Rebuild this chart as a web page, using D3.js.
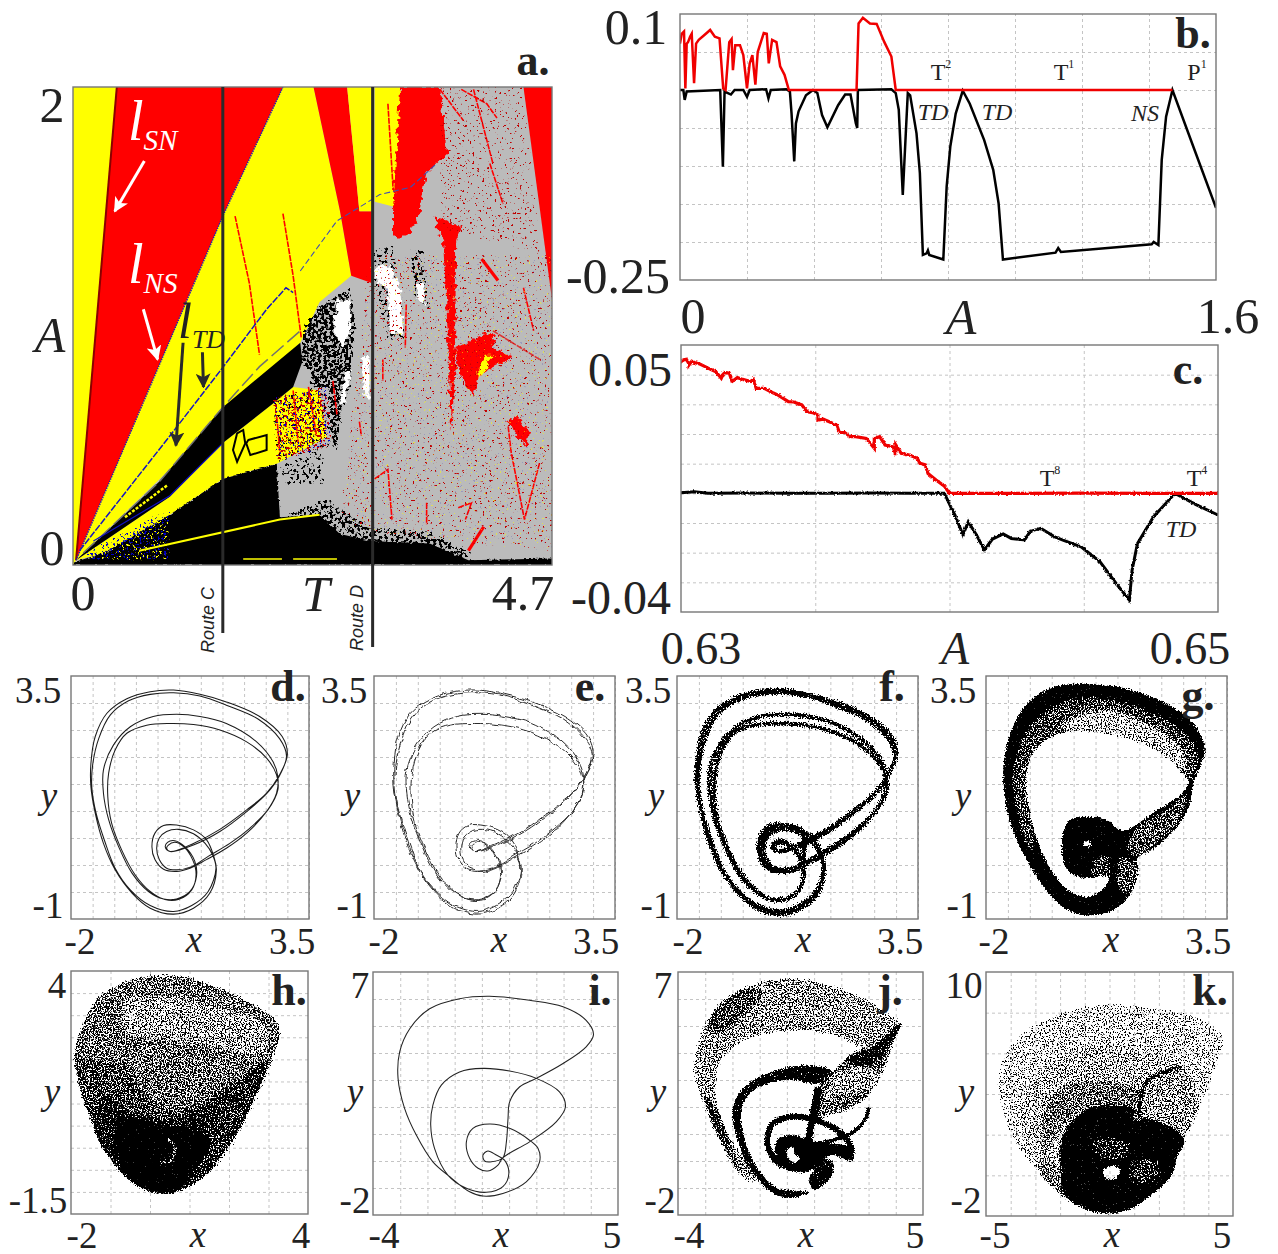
<!DOCTYPE html>
<html>
<head>
<meta charset="utf-8">
<script src="https://cdn.jsdelivr.net/npm/d3@7"></script>
<style>
  html, body { margin: 0; padding: 0; background: #fff; }
  text { font-family: "Liberation Serif", serif; fill: #222; }
</style>
</head>
<body>
<div id="chart"></div>
<script>
// -------------------------
// Data
// -------------------------

// Panel b, Lyapunov exponents against A
const bBlack = [[0,0],[.01,0],[.014,-.013],[.02,-.002],[.12,0],[.128,-.101],[.133,-.002],[.152,-.006],[.163,0],[.189,0],[.2,-.009],[.208,0],[.257,.001],[.264,-.011],[.271,0],[.317,.001],[.328,-.002],[.333,-.031],[.341,-.094],[.346,-.044],[.354,-.028],[.376,-.007],[.397,0],[.41,-.004],[.424,-.033],[.44,-.049],[.472,-.02],[.493,-.006],[.509,-.006],[.525,-.044],[.529,-.05],[.531,0],[.631,.001],[.644,-.004],[.653,-.026],[.665,-.138],[.674,-.057],[.68,-.004],[.687,-.007],[.706,-.057],[.716,-.109],[.725,-.217],[.736,-.215],[.74,-.211],[.744,-.217],[.786,-.223],[.796,-.127],[.807,-.074],[.823,-.031],[.844,-.001],[.865,-.018],[.908,-.066],[.935,-.105],[.951,-.149],[.964,-.223],[1.121,-.214],[1.129,-.208],[1.137,-.213],[1.408,-.203],[1.414,-.2],[1.428,-.204],[1.438,-.092],[1.451,-.035],[1.47,0],[1.536,-.079],[1.6,-.155]];
const bRed = [[0,.061],[.005,.074],[.012,.077],[.016,.002],[.02,.061],[.024,.063],[.03,.07],[.035,.074],[.042,.009],[.048,.061],[.056,.066],[.072,.072],[.09,.079],[.104,.07],[.118,.068],[.129,.002],[.136,0],[.147,.063],[.154,.067],[.158,.026],[.165,.059],[.179,.059],[.189,.046],[.2,.002],[.208,.035],[.216,.046],[.225,.007],[.232,.05],[.25,.075],[.259,.074],[.265,.035],[.275,.066],[.288,.063],[.299,.031],[.312,.02],[.325,0],[.527,0],[.533,.0875],[.546,.095],[.567,.0875],[.587,.087],[.61,.063],[.631,.044],[.644,0],[1.47,0]];

// Panel c, same exponents on the narrow A range
const cBlack = [[.63,.0002],[.6305,.0005],[.631,0],[.6325,.0001],[.634,0],[.6355,0],[.637,.0001],[.6385,0],[.6398,0],[.6399,-.0017],[.6401,-.0056],[.6402,-.0073],[.6405,-.014],[.6407,-.0096],[.641,-.014],[.6413,-.0191],[.6416,-.0154],[.642,-.0137],[.6423,-.0152],[.6428,-.0157],[.643,-.0129],[.6434,-.0118],[.6439,-.0146],[.6442,-.0157],[.6449,-.018],[.6456,-.023],[.6462,-.0303],[.6467,-.036],[.6468,-.0259],[.647,-.0169],[.6476,-.0079],[.6484,0],[.6492,-.0039],[.65,-.0073]];
const cRed = [[.63,.0444],[.6301,.045],[.6302,.0452],[.6303,.0436],[.6303,.0433],[.6304,.0445],[.6305,.0441],[.6307,.0436],[.6309,.0427],[.6311,.0418],[.6313,.041],[.6315,.0388],[.6316,.0407],[.6318,.0405],[.6319,.0377],[.6321,.039],[.6323,.0384],[.6326,.0377],[.6327,.0384],[.6328,.0354],[.6331,.0354],[.6334,.034],[.6336,.0332],[.634,.0309],[.6342,.0308],[.6345,.0298],[.6347,.0275],[.6349,.0272],[.6351,.0264],[.6351,.0247],[.6353,.025],[.6355,.0242],[.6358,.023],[.6359,.0205],[.6361,.0205],[.6363,.0191],[.6365,.0191],[.6369,.0185],[.637,.0174],[.6372,.0152],[.6372,.0185],[.6374,.0191],[.6376,.0163],[.6379,.0157],[.638,.0129],[.638,.0163],[.6382,.0135],[.6385,.0129],[.6388,.0118],[.6389,.0101],[.6391,.0096],[.6392,.0067],[.6395,.0045],[.6398,.0025],[.64,0],[.6425,0],[.645,.0001],[.6475,0],[.65,0]];

// Panels d, e and f share one period 8 orbit
const orbitD = [[.29,.25],[.83,.4],[1.44,.66],[2.06,1.02],[2.52,1.33],[2.82,1.67],[3.0,2.04],[2.88,2.38],[2.36,2.75],[1.59,3.02],[.98,3.16],[.37,3.24],[-.17,3.21],[-.71,3.08],[-1.17,2.81],[-1.44,2.38],[-1.54,1.88],[-1.54,1.45],[-1.44,.96],[-1.25,.4],[-.98,-.09],[-.59,-.52],[-.17,-.8],[.37,-.91],[.83,-.8],[1.21,-.52],[1.36,-.09],[1.3,.16],[1.13,.47],[.83,.65],[.44,.74],[.14,.73],[-.06,.59],[-.13,.34],[-.06,.1],[.14,-.08],[.44,-.12],[.75,-.06],[1.13,.1],[1.59,.31],[2.06,.59],[2.52,.99],[2.75,1.33],[2.78,1.64],[2.67,1.91],[2.29,2.28],[1.59,2.62],[.98,2.75],[.44,2.79],[-.1,2.75],[-.63,2.56],[-1.02,2.22],[-1.25,1.76],[-1.25,1.33],[-1.13,.84],[-.9,.34],[-.59,-.15],[-.21,-.49],[.14,-.63],[.44,-.63],[.75,-.49],[.9,-.21],[.86,.07],[.63,.34],[.4,.45],[.23,.42],[.18,.33],[.29,.25],[.83,.37],[1.44,.62],[2.06,.99],[2.52,1.32],[2.81,1.64],[2.98,2.02],[2.82,2.34],[2.33,2.7],[1.59,2.96],[.98,3.13],[.37,3.19],[-.17,3.16],[-.67,3.04],[-1.09,2.78],[-1.36,2.34],[-1.5,1.85],[-1.52,1.45],[-1.42,.96],[-1.22,.44],[-.98,-.06],[-.63,-.46],[-.17,-.75],[.37,-.86],[.79,-.75],[1.17,-.49],[1.35,-.06],[1.27,.19],[1.1,.4],[.83,.58],[.48,.66],[.21,.62],[.04,.5],[-.02,.31],[.04,.1],[.21,-.06],[.44,-.09],[.79,-.03],[1.17,.16],[1.67,.4],[2.13,.68],[2.55,1.02],[2.78,1.39],[2.75,1.67],[2.52,1.98],[2.06,2.28],[1.44,2.5],[.83,2.6],[.29,2.62],[-.25,2.59],[-.71,2.44],[-.98,2.13],[-1.13,1.7],[-1.15,1.27],[-1.06,.77],[-.83,.28],[-.52,-.18],[-.17,-.49],[.17,-.64],[.48,-.64],[.79,-.46],[.89,-.18],[.81,.1],[.6,.34],[.4,.42],[.25,.37],[.21,.31]];
const ringF = [[.85,.6],[.44,.72],[.1,.65],[-.1,.4],[-.08,.1],[.1,-.06],[.44,-.1],[.8,-.03]];

// Panel g outline and density patches
const gOuter = [[2.73,1.51],[2.89,1.82],[3.0,2.1],[2.89,2.44],[2.58,2.75],[1.97,3.05],[1.21,3.27],[.76,3.33],[.15,3.36],[-.46,3.3],[-.99,3.05],[-1.33,2.68],[-1.52,2.25],[-1.61,1.76],[-1.56,1.14],[-1.37,.59],[-.99,-.03],[-.61,-.49],[-.15,-.83],[.3,-.94],[.83,-.86],[1.21,-.64],[1.44,-.27],[1.48,0],[1.44,.1],[1.9,.34],[2.43,.77],[2.66,1.14]];
const gHole = [[2.62,1.57],[2.2,1.94],[1.52,2.25],[.76,2.41],[.15,2.47],[-.38,2.41],[-.76,2.22],[-.99,1.94],[-1.07,1.51],[-.99,.96],[-.8,.4],[-.46,-.15],[-.08,-.49],[.38,-.58],[.64,-.46],[.8,-.24],[.38,-.24],[.15,-.24],[-.15,-.09],[-.27,.28],[-.23,.65],[-.08,.84],[.3,.9],[.76,.84],[1.06,.65],[1.21,.65],[1.9,1.02],[2.43,1.3]];
const gRibbon = [[2.73,1.64],[2.85,1.98],[2.73,2.28],[2.13,2.68],[1.44,2.93],[.76,3.08],[0,3.08],[-.61,2.87],[-.99,2.59],[-1.29,2.13],[-1.41,1.64],[-1.29,.96],[-1.07,.34],[-.91,.28],[-.99,.96],[-1.07,1.51],[-.99,1.94],[-.76,2.22],[-.38,2.41],[.15,2.47],[.76,2.41],[1.52,2.25],[2.2,1.94],[2.62,1.57]];
const gCore = [[2.58,1.76],[2.43,2.19],[1.52,2.68],[.76,2.87],[.15,2.78],[-.31,2.56],[.15,2.47],[.76,2.41],[1.52,2.25],[2.2,1.94]];
const gWing = [[1.21,.34],[1.44,.71],[2.13,1.02],[2.58,1.33],[2.43,.84],[1.9,.41],[1.44,.16]];
const gLower = [[1.06,.16],[1.44,.03],[1.4,-.27],[1.14,-.52],[.99,-.34]];
const gSpiral = [[.38,-.15],[.49,.1],[.76,.16],[.8,-.21]];
const gEye = [[.21,.37],[.3,.44],[.42,.37],[.3,.34]];

// Panel h
const hOuter = [[.26,3.92],[.93,3.87],[1.6,3.68],[2.28,3.42],[2.87,3.12],[3.2,2.89],[3.3,2.66],[3.25,2.33],[2.95,1.72],[2.7,1.12],[2.36,.44],[1.94,-.16],[1.44,-.61],[1.01,-.88],[.59,-1.03],[.26,-1.05],[-.16,-.95],[-.59,-.69],[-1.01,-.27],[-1.43,.44],[-1.72,1.12],[-1.89,1.72],[-1.93,2.14],[-1.76,2.7],[-1.43,3.3],[-1.01,3.61],[-.42,3.83]];
const hTop = [[-1.89,2.14],[-1.76,2.7],[-1.43,3.3],[-1.01,3.61],[-.42,3.83],[.26,3.92],[.93,3.87],[1.6,3.68],[2.28,3.42],[2.87,3.12],[3.2,2.89],[3.28,2.6],[2.99,1.99],[1.94,1.42],[.59,.82],[-.2,1.3],[-.59,1.87],[-1.34,1.95]];
const hCore = [[-.59,3.38],[1.5,3.2],[2.87,2.78],[2.9,2.17],[1.1,2.4],[-.59,2.63]];
const hDark = [[-1.17,1.12],[-.59,.82],[.59,.67],[1.94,1.27],[2.87,1.95],[2.95,1.72],[2.7,1.12],[2.36,.44],[1.94,-.16],[1.44,-.61],[1.01,-.88],[.59,-1.03],[.26,-1.05],[-.16,-.95],[-.59,-.69],[-1.01,-.27],[-1.43,.44]];
const hBlack = [[-.84,.59],[.26,.52],[1.52,.22],[1.1,-.54],[.59,-.99],[-.16,-.91],[-.67,-.54]];
const hRight = [[1.69,.89],[2.7,1.8],[2.53,1.12],[2.19,.37],[1.77,-.23],[1.27,-.39],[1.35,.37]];
const hSliver = [[1.69,-.39],[2.19,.22],[2.7,1.12],[3.12,1.99]];
const hRing = [[.42,.22],[.64,-.01],[.51,-.31],[.26,-.31]];

// Panel i, one closed orbit
const orbitI = [[.77,.12],[.9,.71],[.96,1.58],[1.02,2.19],[1.39,2.75],[2.0,3.06],[2.98,3.61],[3.83,4.23],[4.1,4.68],[3.83,5.21],[2.98,5.71],[1.75,5.95],[.28,6.1],[-.82,6.01],[-1.92,5.64],[-2.65,4.9],[-3.02,4.04],[-3.08,3.06],[-2.84,1.95],[-2.41,.96],[-1.8,-.03],[-1.18,-.58],[-.45,-1.14],[.04,-1.3],[.77,-1.2],[1.63,-.77],[2.12,-.03],[2.06,.47],[1.75,.77],[1.02,1.21],[.28,1.37],[-.33,1.21],[-.57,.71],[-.45,.1],[-.14,-.27],[.22,-.37],[.59,-.15],[.77,.12],[1.75,.71],[2.73,1.45],[3.07,2.01],[2.85,2.56],[2.0,3.06],[1.02,3.33],[.04,3.43],[-.82,3.3],[-1.49,2.81],[-1.8,2.07],[-1.88,1.33],[-1.74,.47],[-1.25,-.52],[-.57,-1.01],[.16,-1.16],[.77,-.95],[.99,-.46],[.83,.03],[.53,.22],[.22,.37],[.04,.22],[.1,0],[.35,-.03]];

// Panel j
const jRibbon = [[4.2,5.09],[3.72,5.46],[2.74,6.08],[1.64,6.51],[.66,6.75],[-.43,6.75],[-1.53,6.45],[-2.51,5.83],[-3.06,4.97],[-3.37,3.98],[-3.43,3.24],[-3.18,2.38],[-2.75,1.39],[-2.27,.28],[-1.66,-.58],[-1.11,-.83],[-1.47,-.09],[-2.14,1.02],[-2.45,1.76],[-2.57,2.62],[-2.45,3.61],[-1.9,4.23],[-1.17,4.6],[-.07,4.78],[1.03,4.78],[2.01,4.53],[2.62,4.23],[3.11,4.23],[3.72,4.53]];
const jDarkTop = [[-2.9,4.9],[-2.5,5.7],[-1.5,6.4],[-.9,6.2],[-1.5,5.5],[-2.5,4.7]];
const jDarkLeft = [[-3.0,2.4],[-2.7,1.2],[-2.1,.2],[-1.7,-.4],[-2.2,.9],[-2.5,1.8]];
const jWing = [[4.2,5.09],[3.72,4.53],[3.11,4.23],[2.62,4.17],[1.76,3.43],[1.15,2.75],[.97,1.51],[1.4,1.64],[2.25,1.88],[2.98,2.38],[3.47,3.12],[3.84,4.1]];
const jWingDark = [[4.2,5.09],[3.6,4.6],[3.1,4.2],[2.2,3.8],[2.8,3.5],[3.5,3.9]];
const jWingLight = [[2.6,3.5],[3.3,3.3],[3.2,2.7],[2.6,2.6],[1.9,2.5],[1.5,2.2],[1.6,3.0]];
const jMid = [[1.64,3.36],[.79,3.55],[-.19,3.43],[-1.05,3.12],[-1.78,2.5],[-2.02,1.88],[-1.9,1.02],[-1.53,.03],[-1.05,-.71],[-.43,-1.26],[.18,-1.38],[.91,-1.14],[.18,-1.08],[-.43,-.95],[-1.17,-.09],[-1.59,1.02],[-1.66,1.88],[-1.35,2.5],[-.68,2.87],[.18,2.99],[1.15,2.87]];
const jBlob = [[-.43,.4],[-.31,.84],[.3,.96],[.79,.77],[1.4,.65],[2.25,.53],[2.31,.03],[1.64,.22],[1.15,-.09],[.79,-.4],[.3,-.4],[-.19,-.21]];
const jStar = [[-.01,.34],[.18,.53],[.3,.22],[.48,.1],[.3,-.09],[.11,.03]];
const jLowerBlob = [[.91,-.46],[1.28,.03],[1.64,.03],[1.7,-.46],[1.28,-.95],[.97,-1.08],[.79,-.58]];
const jRing = [[2.31,.03],[2.37,.4],[2.01,1.02],[1.03,1.51],[.18,1.64],[-.5,1.39],[-.72,.77],[-.55,.2],[-.19,-.21]];
const jArc = [[1.15,.65],[2.25,.96],[2.86,1.51],[3.01,2.0]];
const jStem = [[1.15,2.75],[.97,1.76],[.79,.77]];

// Panel k
const kOuter = [[4.6,6.83],[4.26,7.32],[3.32,7.9],[1.97,8.23],[.35,8.42],[-.99,8.31],[-2.34,7.81],[-3.56,6.99],[-4.23,5.92],[-4.53,4.61],[-4.37,3.29],[-3.83,1.65],[-2.88,.17],[-1.81,-1.15],[-.86,-1.72],[.01,-1.88],[.89,-1.64],[1.7,-.98],[2.51,.01],[2.78,.99],[3.05,1.81],[3.72,3.46],[4.4,5.6]];
const kShell = [[-3.42,2.14],[-3.56,3.46],[-2.75,5.1],[-1.54,6.01],[-.19,6.34],[1.43,6.09],[2.91,5.35],[1.43,4.44],[1.3,3.95],[1.03,2.64],[-1,3.13],[-1.94,2.64],[-2.75,1.49]];
const kInner = [[-2.68,.99],[-2.61,3.29],[-1.94,4.28],[-.59,4.69],[.76,4.44],[1.3,4.03],[1.03,2.64],[-1,3.29],[-1.81,2.47]];
const kRight = [[1.3,4.12],[1.56,4.69],[2.91,5.35],[3.59,3.62],[3.05,1.98],[1.3,2.8]];
const kDark = [[-1.81,2.14],[-1.54,2.64],[-.73,3.29],[.89,3.29],[1.03,2.64],[1.43,2.8],[2.78,2.14],[3.05,1.65],[2.78,.99],[2.51,.01],[1.7,-.98],[.89,-1.64],[.01,-1.88],[-.86,-1.72],[-1.81,-.98],[-1.94,.17],[-2.01,1.16]];
const kSpotA = [[-.73,1.65],[.76,1.65],[.62,.83],[-.46,.99]];
const kSpotB = [[.89,.66],[1.97,.66],[1.97,-.16],[.89,-.32]];
const kHole = [[-.25,.17],[.01,.45],[.42,.3],[.22,-.16],[-.08,-.16]];
const kLower = [[-2.88,.17],[-1.81,-.98],[-1.94,.17],[-2.68,.99]];
const kStem = [[2.91,5.35],[1.56,4.69],[1.3,4.03],[1.17,2.8]];

// Panel a, regions of the (T, A) plane
const aYellowLeft = [[0,0],[0,2],[.43,2],[.03,.02]];
const aRedLeft = [[.03,.02],[.43,2],[2.06,2],[1.47,1.46]];
const aYellowMain = [[.03,.02],[1.47,1.46],[2.06,2],[2.36,2],[2.62,1.48],[2.73,1.21],[2.42,1.1],[2.23,.93]];
const aRedSecond = [[2.36,2],[2.69,2],[2.81,1.48],[2.93,1.48],[2.93,1.18],[2.73,1.21],[2.62,1.48]];
const aYellowSecond = [[2.69,2],[2.94,2],[2.94,1.48],[2.81,1.48]];
const aYellowThird = [[2.96,2],[3.21,2],[3.35,1.54],[3.14,1.5],[2.96,1.52]];
const aRedTop = [[3.21,2],[3.6,2],[3.67,1.72],[3.47,1.64],[3.42,1.55],[3.4,1.47],[3.31,1.39],[3.27,1.37],[3.14,1.37],[3.14,1.48]];
const aRedRight = [[4.42,2],[4.7,2],[4.7,1.11]];
const aBlackWedge = [[.03,.02],[.85,.35],[1.47,.66],[2.23,.93],[2.25,.85],[2.16,.745],[1.96,.675],[1.47,.51],[.95,.286]];
const aYellowBand = [[.03,.02],[.95,.286],[1.47,.51],[1.96,.675],[2.16,.745],[2.42,.73],[2.49,.536],[2.0,.424],[1.47,.36],[.95,.21],[.3,.05]];
const aBlackBottom = [[0,0],[0,.01],[.3,.05],[.95,.21],[1.47,.36],[2.0,.424],[2.03,.2],[2.42,.21],[2.62,.13],[2.93,.1],[3.5,.09],[3.88,.02],[4.7,.027],[4.7,0]];
const aBlackMottle = [[2.26,1.0],[2.42,1.09],[2.72,1.16],[2.78,1.01],[2.75,.91],[2.72,.73],[2.65,.66],[2.59,.48],[2.49,.52],[2.39,.49],[2.32,.81],[2.23,.84]];
const aMottleD = [[2.95,1.32],[3.14,1.34],[3.27,.95],[3.08,.94],[2.95,1.18]];
const aMottleE = [[3.31,1.32],[3.44,1.32],[3.5,1.05],[3.34,1.12]];
const aMottleF = [[2.03,.42],[2.45,.49],[2.49,.34],[2.23,.34],[2.09,.33]];
const aMottleG = [[2.03,.2],[2.5,.28],[2.9,.16],[3.5,.14],[3.9,.06],[3.88,.02],[2.9,.08],[2.4,.18]];
const aWhitePatches = [
  [[2.59,1.11],[2.72,1.11],[2.72,.97],[2.65,.91],[2.55,.98]],
  [[2.68,.81],[2.73,.81],[2.67,.68],[2.62,.68]],
  [[2.83,.87],[2.91,.87],[2.91,.69],[2.86,.7]],
  [[2.96,1.25],[3.11,1.25],[3.21,1.16],[3.24,.97],[3.11,.97],[3.09,1.15],[2.98,1.19]],
  [[3.37,1.18],[3.44,1.18],[3.45,1.09],[3.37,1.11]]
];
const aRedPatches = [
  [[3.63,1.37],[3.76,1.36],[3.75,.95],[3.76,.86],[3.71,.55],[3.68,.95]],
  [[3.57,1.45],[3.68,1.44],[3.81,1.41],[3.76,1.36],[3.63,1.36],[3.57,1.4]],
  [[3.76,.91],[4.06,.97],[4.14,.97],[4.12,.91],[4.32,.87],[3.99,.8],[3.93,.71],[3.8,.79]],
  [[4.25,.605],[4.37,.62],[4.48,.55],[4.45,.49],[4.37,.54]]
];
const aYellowSpot = [[3.98,.81],[4.04,.88],[4.11,.88],[4.04,.81],[3.98,.78]];
const aRedLines = [
  [[4.27,.58],[4.3,.47],[4.43,.19],[4.58,.43]],
  [[1.59,1.46],[1.73,1.18],[1.83,.88]],
  [[2.06,1.47],[2.16,1.21],[2.24,.95]],
  [[4.01,1.28],[4.17,1.19]],
  [[3.81,1.99],[4.06,1.93],[4.16,1.87]],
  [[3.6,1.99],[3.83,1.86]],
  [[4.09,1.68],[4.22,1.51]],
  [[3.93,1.99],[4.12,1.68]],
  [[2.96,.36],[3.09,.4],[3.13,.19]],
  [[3.27,1.09],[3.26,.91]],
  [[3.04,.86],[3.04,.77]],
  [[3.78,.24],[3.91,.26],[3.85,.19]],
  [[2.55,.77],[2.59,.63]],
  [[2.31,.745],[2.39,.54]],
  [[4.58,.86],[4.12,.98]],
  [[3.88,.06],[4.03,.16]],
  [[3.47,.26],[3.47,.17]],
  [[4.42,1.16],[4.52,.98]],
  [[3.09,1.93],[3.14,1.58],[3.27,1.39]],
  [[2.0,.62],[2.03,.47]],
  [[2.16,.73],[2.21,.51]],
  [[2.81,.6],[2.83,.54]]
];
const aBoundaryNS = [[.03,.02],[1.47,1.46],[2.06,2]];
const aBoundarySN = [[.03,.02],[.43,2]];
const aBlueTD = [[.065,.06],[.95,.54],[1.44,.81],[1.9,1.07],[2.09,1.16],[2.16,1.14]];
const aBlueTDFar = [[2.23,1.23],[2.59,1.44],[2.86,1.51],[3.01,1.55],[3.31,1.58],[3.57,1.68]];
const aGreyLine = [[.1,.05],[.85,.35],[1.47,.66],[1.83,.83],[2.23,.98]];
const aBlueLow = [[.2,.1],[.95,.29],[1.47,.51]];
const aThinStrip = [[.51,.2],[.93,.335]];
const aYellowThin = [[.65,.06],[2.03,.19],[2.42,.21]];
const aBottomDashes = [[[1.67,.025],[2.05,.025]],[[2.16,.025],[2.59,.025]]];
const aLoops = [
  [[1.72,.523],[1.9,.544],[1.9,.481],[1.74,.46],[1.7,.509]],
  [[1.61,.551],[1.67,.565],[1.69,.509],[1.61,.432],[1.57,.481]]
];
const aScatterZone = [[2.9,1.3],[4.7,1.3],[4.7,.05],[2.6,.15]];
const aScatterTop = [[3.6,2],[4.42,2],[4.6,1.3],[3.6,1.4]];
const aScatterMix = [[1.95,.7],[2.5,.75],[2.55,.5],[2.0,.43]];
const aScatterLow = [[.1,.05],[.95,.24],[.95,.02],[.15,.02]];
const aRoutes = [1.47, 2.94];
const aWhiteArrows = [[[.7,1.69],[.41,1.48]],[[.69,1.07],[.83,.86]]];
const aDarkArrows = [[[1.08,.93],[1.01,.5]],[[1.27,.89],[1.28,.745]]];

// Tick labels and annotations
const panelLetters = [["a.",533,60],["b.",1193,33],["c.",1188,369],["d.",288,686],["e.",590,686],["f.",892,686],["g.",1198,695],["h.",289,990],["i.",600,990],["j.",890,990],["k.",1210,990]];
const bigLabels = [["2",52,105,50],["0",52,548,50],["0",83,593,50],["4.7",523,593,50],["0.1",636,27,50],["-0.25",618,276,50],["0",693,316,50],["1.6",1228,316,50],["0.05",630,369,48],["-0.04",621,597,48],["0.63",701,648,46],["0.65",1190,648,46]];
const bigItalic = [["A",50,335,50],["T",316,594,50],["A",961,317,50],["A",955,648,46]];
const smallLabels = [["3.5",38,690],["-1",48,905],["-2",80,941],["3.5",292,941],["3.5",344,690],["-1",352,905],["-2",384,941],["3.5",596,941],["3.5",648,690],["-1",656,905],["-2",688,941],["3.5",900,941],["3.5",953,690],["-1",962,905],["-2",994,941],["3.5",1208,941],["4",57,985],["-1.5",38,1200],["-2",82,1235],["4",301,1235],["7",360,985],["-2",355,1200],["-4",384,1235],["5",612,1235],["7",663,985],["-2",660,1200],["-4",689,1235],["5",915,1235],["10",964,985],["-2",966,1200],["-5",995,1235],["5",1222,1235]];
const smallItalic = [["y",49,795],["x",194,939],["y",352,795],["x",499,939],["y",656,795],["x",803,939],["y",963,795],["x",1111,939],["y",52,1091],["x",198,1234],["y",355,1091],["x",501,1234],["y",658,1091],["x",806,1234],["y",966,1091],["x",1112,1234]];
const orbitNames = [["T","2",941,72],["T","1",1064,72],["P","1",1197,72],["T","8",1050,478],["T","4",1197,478]];
const routeNames = [["TD",933,112],["TD",997,112],["NS",1145,113],["TD",1181,529]];

// -------------------------
// Set up
// -------------------------
const svg = d3.select("#chart").append("svg")
  .attr("width", 1278)
  .attr("height", 1254)
  .style("display", "block");
const defs = svg.append("defs");

// Grain filter: grey level of the source sets how dense the dots are
function addGrain(id, color, freq, seed) {
  const f = defs.append("filter").attr("id", id)
    .attr("x", "0%").attr("y", "0%").attr("width", "100%").attr("height", "100%")
    .attr("color-interpolation-filters", "sRGB");
  f.append("feGaussianBlur").attr("in", "SourceGraphic").attr("stdDeviation", 1.2).attr("result", "soft");
  f.append("feColorMatrix").attr("in", "soft").attr("type", "matrix")
    .attr("values", "0 0 0 0 0 0 0 0 0 0 0 0 0 0 0 -1 0 0 0 1").attr("result", "dens");
  f.append("feTurbulence").attr("type", "fractalNoise").attr("baseFrequency", freq)
    .attr("numOctaves", 2).attr("seed", seed).attr("result", "noise");
  f.append("feColorMatrix").attr("in", "noise").attr("type", "matrix")
    .attr("values", "0 0 0 0 0 0 0 0 0 0 0 0 0 0 0 2 0 0 0 -.5").attr("result", "spread");
  f.append("feComposite").attr("in", "dens").attr("in2", "spread").attr("operator", "arithmetic")
    .attr("k1", 0).attr("k2", 1.3).attr("k3", 1).attr("k4", -1.15).attr("result", "mix");
  const sharp = f.append("feComponentTransfer").attr("in", "mix").attr("result", "dots");
  sharp.append("feFuncA").attr("type", "linear").attr("slope", 9).attr("intercept", 0);
  f.append("feFlood").attr("flood-color", color).attr("result", "ink");
  f.append("feComposite").attr("in", "ink").attr("in2", "dots").attr("operator", "in").attr("result", "out");
  f.append("feGaussianBlur").attr("in", "out").attr("stdDeviation", .3);
}
addGrain("grainBlack", "#000", .75, 3);
addGrain("grainCoarse", "#000", .33, 8);
addGrain("grainRed", "#c00000", .4, 11);
addGrain("grainYellow", "#ffff00", .45, 21);
addGrain("grainBlue", "#0000c8", .45, 33);

// Jagged edge filter for the noisy orbit and the cell boundaries
function addRough(id, freq, scale, seed) {
  const f = defs.append("filter").attr("id", id)
    .attr("x", "-5%").attr("y", "-5%").attr("width", "110%").attr("height", "110%");
  f.append("feTurbulence").attr("type", "fractalNoise").attr("baseFrequency", freq)
    .attr("numOctaves", 2).attr("seed", seed).attr("result", "n");
  f.append("feDisplacementMap").attr("in", "SourceGraphic").attr("in2", "n")
    .attr("scale", scale).attr("xChannelSelector", "R").attr("yChannelSelector", "G");
}
addRough("roughOrbit", .12, 5, 5);
addRough("roughCells", .2, 9, 9);
addRough("roughEdge", .3, 4, 4);
addRough("roughTrace", .45, 3, 6);

function addArrow(id, color) {
  defs.append("marker").attr("id", id)
    .attr("viewBox", "0 0 10 10").attr("refX", 9).attr("refY", 5)
    .attr("markerWidth", 15).attr("markerHeight", 15).attr("markerUnits", "userSpaceOnUse")
    .attr("orient", "auto")
    .append("path").attr("d", "M0,0L10,5L0,10L2.5,5Z").attr("fill", color);
}
addArrow("arrowWhite", "#fff");
addArrow("arrowDark", "#2a2a2a");

let clipCount = 0;

// Frame with dashed grid, drawn with d3 axes
function makePanel(box, xDomain, yDomain, xTicks, yTicks) {
  const x = d3.scaleLinear().domain(xDomain).range([box.left, box.right]);
  const y = d3.scaleLinear().domain(yDomain).range([box.bottom, box.top]);
  const g = svg.append("g");
  const gridX = g.append("g").attr("transform", `translate(0,${box.bottom})`)
    .call(d3.axisBottom(x).tickValues(xTicks).tickSize(-(box.bottom - box.top)).tickFormat(""));
  const gridY = g.append("g").attr("transform", `translate(${box.left},0)`)
    .call(d3.axisLeft(y).tickValues(yTicks).tickSize(-(box.right - box.left)).tickFormat(""));
  [gridX, gridY].forEach(a => {
    a.select(".domain").remove();
    a.selectAll("line").attr("stroke", "#c4c4c4").attr("stroke-dasharray", "3,3").attr("stroke-width", 1);
  });
  const id = "clip" + (clipCount++);
  defs.append("clipPath").attr("id", id).append("rect")
    .attr("x", box.left).attr("y", box.top)
    .attr("width", box.right - box.left).attr("height", box.bottom - box.top);
  const plot = g.append("g").attr("clip-path", `url(#${id})`);
  return { x, y, g, plot, box };
}

function drawFrame(p) {
  const b = p.box;
  p.g.append("rect").attr("x", b.left).attr("y", b.top)
    .attr("width", b.right - b.left).attr("height", b.bottom - b.top)
    .attr("fill", "none").attr("stroke", "#777").attr("stroke-width", 1.4);
}

function seqTicks(start, step, n) {
  const out = [];
  for (let i = 0; i <= n; i++) out.push(start + i * step);
  return out;
}

function shape(p, closed, curve) {
  const line = d3.line().x(d => p.x(d[0])).y(d => p.y(d[1]));
  if (curve) line.curve(closed ? d3.curveCatmullRomClosed.alpha(.5) : d3.curveCatmullRom.alpha(.5));
  else line.curve(closed ? d3.curveLinearClosed : d3.curveLinear);
  return line;
}

// Layers are painted in grey, 0 dense to 1 empty, and then turned into dots
function grainLayers(p, layers, filterId) {
  const b = p.box;
  const g = p.plot.append("g").attr("filter", `url(#${filterId || "grainBlack"})`);
  g.append("rect").attr("x", b.left).attr("y", b.top)
    .attr("width", b.right - b.left).attr("height", b.bottom - b.top).attr("fill", "#fff");
  layers.forEach(l => {
    const grey = d3.rgb(l.lum * 255, l.lum * 255, l.lum * 255).formatHex();
    const path = g.append("path");
    if (l.width) {
      path.attr("d", shape(p, l.closed, true)(l.pts)).attr("fill", "none")
        .attr("stroke", grey).attr("stroke-width", l.width);
    } else {
      let d = shape(p, true, !l.straight)(l.pts);
      if (l.hole) d += shape(p, true, true)(l.hole);
      path.attr("d", d).attr("fill", grey).attr("fill-rule", "evenodd");
    }
  });
  return g;
}

// -------------------------
// Panel a
// -------------------------
const pa = makePanel({ left: 73, right: 552, top: 87, bottom: 565 }, [0, 4.7], [0, 2], [], []);
const aPoly = shape(pa, true, false);
const aLine = shape(pa, false, false);

pa.plot.append("rect").attr("x", 73).attr("y", 87).attr("width", 479).attr("height", 478).attr("fill", "#bbbbbb");

[[aYellowLeft, "#ffff00"], [aRedLeft, "#ff0000"], [aYellowMain, "#ffff00"], [aRedSecond, "#ff0000"],
 [aYellowSecond, "#ffff00"], [aYellowThird, "#ffff00"], [aRedRight, "#ff0000"], [aYellowBand, "#ffff00"], [aBlackWedge, "#000"]]
  .forEach(([pts, color]) => pa.plot.append("path").attr("d", aPoly(pts)).attr("fill", color));

pa.plot.append("g").attr("filter", "url(#roughEdge)")
  .append("path").attr("d", aPoly(aBlackBottom)).attr("fill", "#000");

const aJagged = pa.plot.append("g").attr("filter", "url(#roughCells)");
aJagged.append("path").attr("d", aPoly(aRedTop)).attr("fill", "#ff0000");
aRedPatches.forEach(pts => aJagged.append("path").attr("d", aPoly(pts)).attr("fill", "#ff0000"));
aJagged.append("path").attr("d", aPoly(aYellowSpot)).attr("fill", "#ffff00");

// mottled black cells and white patches
grainLayers(pa, [
  { pts: aBlackMottle, lum: .42, straight: true },
  { pts: aMottleD, lum: .6, straight: true },
  { pts: aMottleE, lum: .55, straight: true },
  { pts: aMottleF, lum: .62, straight: true },
  { pts: aMottleG, lum: .5, straight: true },
  { pts: aScatterMix, lum: .68, straight: true }
], "grainCoarse");
const aWhite = pa.plot.append("g").attr("filter", "url(#roughCells)");
aWhitePatches.forEach(pts => aWhite.append("path").attr("d", aPoly(pts)).attr("fill", "#fff"));

aRedLines.forEach((pts, i) => {
  pa.plot.append("path").attr("d", aLine(pts)).attr("fill", "none")
    .attr("stroke", i === 14 ? "#d33" : "#ff0000").attr("stroke-width", i === 3 || i === 15 ? 3.2 : 1.6)
    .attr("stroke-dasharray", i === 3 || i === 15 ? null : "6,1");
});

// scattered cells
grainLayers(pa, [{ pts: aScatterZone, lum: .79, straight: true }, { pts: aScatterTop, lum: .77, straight: true }, { pts: aScatterMix, lum: .6, straight: true }], "grainRed");
grainLayers(pa, [{ pts: aScatterZone, lum: .84, straight: true }, { pts: aScatterLow, lum: .68, straight: true }], "grainYellow");
grainLayers(pa, [{ pts: aScatterZone, lum: .87, straight: true }, { pts: aScatterLow, lum: .66, straight: true }, { pts: aScatterMix, lum: .72, straight: true }], "grainBlue");

aLoops.forEach(pts => pa.plot.append("path").attr("d", aPoly(pts)).attr("fill", "none").attr("stroke", "#000").attr("stroke-width", 2));

pa.plot.append("path").attr("d", aLine(aBoundarySN)).attr("fill", "none").attr("stroke", "#8b0000").attr("stroke-width", 2);
pa.plot.append("path").attr("d", aLine(aBoundaryNS)).attr("fill", "none").attr("stroke", "#2020b0").attr("stroke-width", 1.4).attr("stroke-dasharray", "1.5,1");
pa.plot.append("path").attr("d", aLine(aBlueTD)).attr("fill", "none").attr("stroke", "#1515c0").attr("stroke-width", 1.5).attr("stroke-dasharray", "7,1.5");
pa.plot.append("path").attr("d", aLine(aBlueTDFar)).attr("fill", "none").attr("stroke", "#4050b0").attr("stroke-width", 1.1).attr("stroke-dasharray", "6,3");
pa.plot.append("path").attr("d", aLine(aGreyLine)).attr("fill", "none").attr("stroke", "#707070").attr("stroke-width", 1.5).attr("stroke-dasharray", "16,5");
pa.plot.append("path").attr("d", aLine(aBlueLow)).attr("fill", "none").attr("stroke", "#1010c0").attr("stroke-width", 1.2);
pa.plot.append("path").attr("d", aLine(aThinStrip)).attr("fill", "none").attr("stroke", "#ffff00").attr("stroke-width", 2.5).attr("stroke-dasharray", "3,1.5");
pa.plot.append("path").attr("d", aLine(aYellowThin)).attr("fill", "none").attr("stroke", "#ffff00").attr("stroke-width", 2);
aBottomDashes.forEach(pts => pa.plot.append("path").attr("d", aLine(pts)).attr("fill", "none").attr("stroke", "#ffff00").attr("stroke-width", 1.6));

aWhiteArrows.forEach(pts => {
  pa.plot.append("path").attr("d", aLine(pts)).attr("fill", "none").attr("stroke", "#fff").attr("stroke-width", 3).attr("marker-end", "url(#arrowWhite)");
});
aDarkArrows.forEach(pts => {
  pa.plot.append("path").attr("d", aLine(pts)).attr("fill", "none").attr("stroke", "#2a2a2a").attr("stroke-width", 3).attr("marker-end", "url(#arrowDark)");
});

drawFrame(pa);

// route lines run below the frame
aRoutes.forEach((t, i) => {
  const bottoms = [633, 647];
  svg.append("line").attr("x1", pa.x(t)).attr("x2", pa.x(t)).attr("y1", 87).attr("y2", bottoms[i])
    .attr("stroke", "#2a2a2a").attr("stroke-width", 3);
});
[["Route C", 209, 620], ["Route D", 358, 618]].forEach(d => {
  svg.append("text").text(d[0]).attr("transform", `translate(${d[1]},${d[2]}) rotate(-90)`)
    .attr("text-anchor", "middle").attr("dominant-baseline", "middle")
    .style("font-family", "'Liberation Sans', sans-serif").style("font-style", "italic").style("font-size", "18px");
});

function lSymbol(sub, x, y, color, size) {
  const t = svg.append("text").attr("x", x).attr("y", y).style("font-style", "italic").style("fill", color);
  t.append("tspan").text("l").style("font-size", size + "px");
  t.append("tspan").text(sub).attr("dy", 10).style("font-size", (size * .52) + "px");
}
lSymbol("SN", 128, 140, "#fff", 56);
lSymbol("NS", 128, 283, "#fff", 56);
lSymbol("TD", 178, 338, "#222", 50);

// -------------------------
// Panels b and c
// -------------------------
const pb = makePanel({ left: 680, right: 1216, top: 14, bottom: 280 }, [0, 1.6], [-.25, .1], seqTicks(.2, .2, 6), seqTicks(-.2, .05, 5));
const pc = makePanel({ left: 681, right: 1218, top: 345, bottom: 612 }, [.63, .65], [-.04, .05], seqTicks(.635, .005, 2), seqTicks(-.03, .01, 7));

const bLine = shape(pb, false, false);
pb.plot.append("path").attr("d", bLine(bBlack)).attr("fill", "none").attr("stroke", "#000").attr("stroke-width", 2.5);
pb.plot.append("path").attr("d", bLine(bRed)).attr("fill", "none").attr("stroke", "#f00000").attr("stroke-width", 2.5);
drawFrame(pb);

// panel c traces are hairy, so they go through the jagged filter
const cLine = shape(pc, false, false);
const cTraces = pc.plot.append("g").attr("filter", "url(#roughTrace)");
cTraces.append("path").attr("d", cLine(cBlack)).attr("fill", "none").attr("stroke", "#000").attr("stroke-width", 3);
cTraces.append("path").attr("d", cLine(cRed)).attr("fill", "none").attr("stroke", "#f00000").attr("stroke-width", 3.2);
drawFrame(pc);

// -------------------------
// Phase portraits d to k
// -------------------------
const ticksX = seqTicks(-1.5, .5, 10);
const ticksY = seqTicks(-.5, .5, 7);
const pd = makePanel({ left: 71, right: 309, top: 676, bottom: 919 }, [-2, 3.5], [-1, 3.5], ticksX, ticksY);
const pe = makePanel({ left: 374, right: 615, top: 676, bottom: 919 }, [-2, 3.5], [-1, 3.5], ticksX, ticksY);
const pf = makePanel({ left: 677, right: 918, top: 676, bottom: 919 }, [-2, 3.5], [-1, 3.5], ticksX, ticksY);
const pg = makePanel({ left: 986, right: 1227, top: 676, bottom: 919 }, [-2, 3.5], [-1, 3.5], ticksX, ticksY);
const ph = makePanel({ left: 71, right: 308, top: 971, bottom: 1214 }, [-2, 4], [-1.5, 4], seqTicks(-1, 1, 4), seqTicks(-1, .5, 9));
const pi = makePanel({ left: 373, right: 618, top: 972, bottom: 1215 }, [-4, 5], [-2, 7], seqTicks(-3, 1, 7), seqTicks(-1, 1, 7));
const pj = makePanel({ left: 678, right: 923, top: 972, bottom: 1215 }, [-4, 5], [-2, 7], seqTicks(-3, 1, 7), seqTicks(-1, 1, 7));
const pk = makePanel({ left: 986, right: 1233, top: 972, bottom: 1216 }, [-5, 5], [-2, 10], seqTicks(-4, 1, 8), seqTicks(0, 2, 4));

pd.plot.append("path").attr("d", shape(pd, true, true)(orbitD))
  .attr("fill", "none").attr("stroke", "#1c1c1c").attr("stroke-width", 1.05);

pe.plot.append("path").attr("d", shape(pe, true, true)(orbitD))
  .attr("fill", "none").attr("stroke", "#2a2a2a").attr("stroke-width", 1)
  .attr("filter", "url(#roughOrbit)");

grainLayers(pf, [
  { pts: orbitD, lum: .52, width: 6.5, closed: true },
  { pts: orbitD, lum: .1, width: 2.4, closed: true },
  { pts: ringF, lum: .1, width: 5, closed: true }
]);

grainLayers(pg, [
  { pts: gOuter, lum: .05, hole: gHole },
  { pts: gRibbon, lum: .36 },
  { pts: gCore, lum: .56 },
  { pts: gWing, lum: .4 },
  { pts: gLower, lum: .38 },
  { pts: gSpiral, lum: .36 },
  { pts: gEye, lum: 1 }
]);

grainLayers(ph, [
  { pts: hOuter, lum: .36 },
  { pts: hTop, lum: .44 },
  { pts: hCore, lum: .52 },
  { pts: hDark, lum: .24 },
  { pts: hRight, lum: .3 },
  { pts: hBlack, lum: .05 },
  { pts: hSliver, lum: .72, width: 3 },
  { pts: hRing, lum: .5, width: 3 }
]);

pi.plot.append("path").attr("d", shape(pi, true, true)(orbitI))
  .attr("fill", "none").attr("stroke", "#222").attr("stroke-width", 1.05);

grainLayers(pj, [
  { pts: jRibbon, lum: .5 },
  { pts: jDarkTop, lum: .36 },
  { pts: jDarkLeft, lum: .3 },
  { pts: jWing, lum: .42 },
  { pts: jWingDark, lum: .18 },
  { pts: jWingLight, lum: .52 },
  { pts: jMid, lum: .12 },
  { pts: jRing, lum: 0, width: 6 },
  { pts: jArc, lum: 0, width: 4 },
  { pts: jStem, lum: 0, width: 7 },
  { pts: jBlob, lum: 0 },
  { pts: jLowerBlob, lum: .12 },
  { pts: jStar, lum: 1 }
]);

grainLayers(pk, [
  { pts: kOuter, lum: .6 },
  { pts: kShell, lum: .54 },
  { pts: kInner, lum: .44 },
  { pts: kRight, lum: .5 },
  { pts: kLower, lum: .46 },
  { pts: kDark, lum: .06 },
  { pts: kSpotA, lum: .3 },
  { pts: kSpotB, lum: .3 },
  { pts: kStem, lum: .05, width: 2.2 },
  { pts: kHole, lum: 1 }
]);

[pd, pe, pf, pg, ph, pi, pj, pk].forEach(drawFrame);

// -------------------------
// Text
// -------------------------
function placeText(rows, size, style) {
  rows.forEach(r => {
    svg.append("text").text(r[0]).attr("x", r[1]).attr("y", r[2])
      .attr("text-anchor", "middle").attr("dominant-baseline", "central")
      .style("font-size", (r[3] || size) + "px")
      .style("font-style", style || "normal");
  });
}
placeText(bigLabels, 48);
placeText(bigItalic, 48, "italic");
placeText(smallLabels, 37);
placeText(smallItalic, 37, "italic");
placeText(routeNames, 24, "italic");

panelLetters.forEach(r => {
  svg.append("text").text(r[0]).attr("x", r[1]).attr("y", r[2])
    .attr("text-anchor", "middle").attr("dominant-baseline", "central")
    .style("font-size", "44px").style("font-weight", "bold");
});

orbitNames.forEach(r => {
  const t = svg.append("text").attr("x", r[2]).attr("y", r[3])
    .attr("text-anchor", "middle").attr("dominant-baseline", "central");
  t.append("tspan").text(r[0]).style("font-size", "24px");
  t.append("tspan").text(r[1]).attr("dy", -8).style("font-size", "12px");
});
</script>
</body>
</html>
